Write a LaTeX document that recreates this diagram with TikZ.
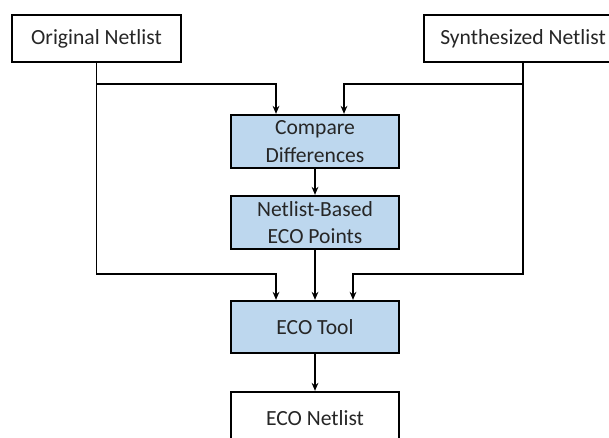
\documentclass[tikz,border=0pt]{standalone}
\usepackage{fontspec}
\setmainfont{Carlito}
\usetikzlibrary{calc,arrows.meta}
\definecolor{boxblue}{HTML}{BDD7EE}
\definecolor{txt}{HTML}{262626}
\begin{document}
\begin{tikzpicture}[x=0.75pt,y=-0.75pt,
  base/.style={draw=black,line width=1.7pt,minimum width=168*0.75pt,minimum height=52*0.75pt,
    inner sep=0pt,align=center,text=txt,font=\fontsize{16.2}{20.5}\selectfont},
  bluebox/.style={base,fill=boxblue},
  whitebox/.style={base,fill=white},
  arr/.style={draw=black,line width=1.4pt,-{Stealth[length=6pt,width=5pt]}},
  ln/.style={draw=black,line width=1.4pt}]
\useasboundingbox (0,0) rectangle (609,438);
\clip (0,0) rectangle (609,438);
\node[whitebox,minimum width=169*0.75pt,minimum height=47*0.75pt] (orig) at (96.5,38.5) {Original Netlist};
\node[whitebox,minimum width=198*0.75pt,minimum height=47*0.75pt] (syn) at (523,38.5) {Synthesized Netlist};
\node[bluebox,minimum height=53*0.75pt] (cmp) at (315,141.5) {Compare\\Differences};
\node[bluebox,minimum height=53*0.75pt] (nbe) at (315,222.5) {Netlist-Based\\ECO Points};
\node[bluebox] (eco) at (315,327) {ECO Tool};
\node[whitebox] (out) at (315,418) {ECO Netlist};
\draw[arr] (orig.south) |- ($(cmp.north)+(-39,-30)$) -- ($(cmp.north)+(-39,0)$);
\draw[arr] (orig.south) |- ($(eco.north)+(-39,-26)$) -- ($(eco.north)+(-39,0)$);
\draw[arr] (syn.south) |- ($(cmp.north)+(29,-30)$) -- ($(cmp.north)+(29,0)$);
\draw[arr] (syn.south) |- ($(eco.north)+(38,-26)$) -- ($(eco.north)+(38,0)$);
\draw[arr] (cmp.south) -- (nbe.north);
\draw[arr] (nbe.south) -- (eco.north);
\draw[arr] (eco.south) -- (out.north);
\end{tikzpicture}
\end{document}
